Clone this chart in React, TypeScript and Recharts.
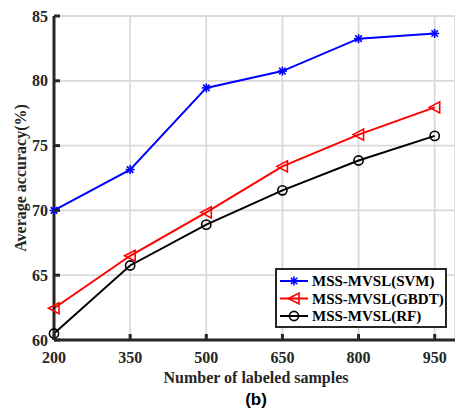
import React from 'react';
import { LineChart, Line, XAxis, YAxis, CartesianGrid, Legend, Label } from 'recharts';

const samples = [200, 350, 500, 650, 800, 950];
const svmAcc = [70.0, 73.15, 79.45, 80.75, 83.25, 83.65];
const gbdtAcc = [62.45, 66.5, 69.85, 73.4, 75.85, 77.95];
const rfAcc = [60.5, 65.75, 68.9, 71.55, 73.85, 75.75];
const yTicks = [60, 65, 70, 75, 80, 85];
const seriesNames = ['MSS-MVSL(SVM)', 'MSS-MVSL(GBDT)', 'MSS-MVSL(RF)'];
const xTitle = 'Number of labeled samples';
const yTitle = 'Average accuracy(%)';
const caption = '(b)';

const data = samples.map((s, i) => ({ n: s, svm: svmAcc[i], gbdt: gbdtAcc[i], rf: rfAcc[i] }));

const SERIF = '"Liberation Serif", "Times New Roman", serif';
const AXIS = '#262626';

const Star = ({ cx, cy, color }: any) => {
  const r = 4.5;
  const d = r * 0.72;
  return (
    <g stroke={color} strokeWidth={1.6}>
      <line x1={cx - r} x2={cx + r} y1={cy} y2={cy} />
      <line x1={cx} x2={cx} y1={cy - r} y2={cy + r} />
      <line x1={cx - d} x2={cx + d} y1={cy - d} y2={cy + d} />
      <line x1={cx - d} x2={cx + d} y1={cy + d} y2={cy - d} />
    </g>
  );
};
const Tri = ({ cx, cy, color }: any) => (
  <polygon
    points={`${cx - 5.5},${cy} ${cx + 5},${cy - 5.5} ${cx + 5},${cy + 5.5}`}
    fill="none"
    stroke={color}
    strokeWidth={1.6}
  />
);
const Circ = ({ cx, cy, color }: any) => (
  <circle cx={cx} cy={cy} r={4.6} fill="none" stroke={color} strokeWidth={1.6} />
);

const markers: any = { svm: Star, gbdt: Tri, rf: Circ };
const colors: any = { svm: '#0000ff', gbdt: '#ff0000', rf: '#000000' };

const makeDot = (key: string) => (props: any) => {
  const M = markers[key];
  if (props.cx == null || props.cy == null) return <g key={props.index} />;
  return <M key={props.index} cx={props.cx} cy={props.cy} color={colors[key]} />;
};

const XTick = ({ x, y, payload }: any) => (
  <g>
    <line x1={x} x2={x} y1={y} y2={y - 6} stroke={AXIS} strokeWidth={3} />
    <text x={x} y={y + 23} textAnchor="middle" fontFamily={SERIF} fontWeight="bold" fontSize={16} fill={AXIS}>
      {payload.value}
    </text>
  </g>
);
const YTick = ({ x, y, payload }: any) => (
  <g>
    <line x1={x} x2={x + 6} y1={y} y2={y} stroke={AXIS} strokeWidth={3} />
    <text x={x - 6} y={y + 5.5} textAnchor="end" fontFamily={SERIF} fontWeight="bold" fontSize={16} fill={AXIS}>
      {payload.value}
    </text>
  </g>
);

const LegendBox = () => {
  const keys = ['svm', 'gbdt', 'rf'];
  return (
    <svg width={172} height={60} style={{ display: 'block' }}>
      <rect x={1} y={1} width={170} height={58} fill="#ffffff" stroke={AXIS} strokeWidth={2} />
      {keys.map((k, i) => {
        const cy = 13 + i * 17.5;
        const M = markers[k];
        return (
          <g key={k}>
            <line x1={5} x2={33} y1={cy} y2={cy} stroke={colors[k]} strokeWidth={2} />
            <M cx={19} cy={cy} color={colors[k]} />
            <text x={37} y={cy + 5} fontFamily={SERIF} fontWeight="bold" fontSize={15} fill="#000">
              {seriesNames[i]}
            </text>
          </g>
        );
      })}
    </svg>
  );
};

const XTitle = ({ viewBox }: any) => {
  const cx = viewBox.x + viewBox.width / 2;
  return (
    <g>
      <text x={cx + 1.5} y={383} textAnchor="middle" fontFamily={SERIF} fontWeight="bold" fontSize={16} fill={AXIS}>
        {xTitle}
      </text>
      <text x={cx + 1.5} y={405} textAnchor="middle" fontFamily='"Liberation Sans", Arial, sans-serif' fontWeight="bold" fontSize={17} fill="#000">
        {caption}
      </text>
    </g>
  );
};
const YTitle = ({ viewBox }: any) => {
  const cy = viewBox.y + viewBox.height / 2;
  return (
    <text
      x={20}
      y={cy}
      transform={`rotate(-90 20 ${cy})`}
      textAnchor="middle"
      dominantBaseline="central"
      fontFamily={SERIF}
      fontWeight="bold"
      fontSize={16}
      fill={AXIS}
    >
      {yTitle}
    </text>
  );
};

export default function App() {
  return (
    <div style={{ position: 'absolute', left: 0, top: 0, width: 455, height: 409, background: '#fff' }}>
      <LineChart width={455} height={409} data={data} margin={{ top: 16, right: 0, bottom: 0, left: 0 }}>
        <CartesianGrid stroke="#dadada" strokeWidth={1.8} />
        <XAxis
          dataKey="n"
          type="number"
          domain={[200, 990]}
          ticks={samples}
          height={69}
          tickSize={0}
          tickMargin={0}
          tickLine={false}
          tick={<XTick />}
          axisLine={{ stroke: AXIS, strokeWidth: 3 }}
        >
          <Label content={<XTitle />} />
        </XAxis>
        <YAxis
          type="number"
          domain={[60, 85]}
          ticks={yTicks}
          width={54}
          tickSize={0}
          tickMargin={0}
          tickLine={false}
          tick={<YTick />}
          axisLine={{ stroke: AXIS, strokeWidth: 3 }}
        >
          <Label content={<YTitle />} />
        </YAxis>
        <Legend
          layout="horizontal"
          verticalAlign="middle"
          align="center"
          content={<LegendBox />}
          wrapperStyle={{ position: 'absolute', left: 275, top: 268, width: 172, height: 60 }}
        />
        <Line dataKey="svm" stroke={colors.svm} strokeWidth={2} dot={makeDot('svm')} isAnimationActive={false} />
        <Line dataKey="gbdt" stroke={colors.gbdt} strokeWidth={2} dot={makeDot('gbdt')} isAnimationActive={false} />
        <Line dataKey="rf" stroke={colors.rf} strokeWidth={2} dot={makeDot('rf')} isAnimationActive={false} />
      </LineChart>
    </div>
  );
}
